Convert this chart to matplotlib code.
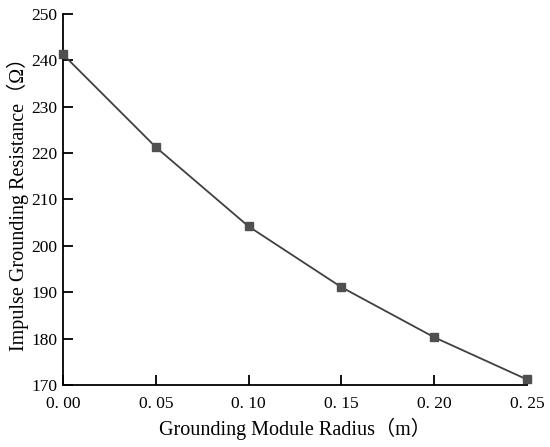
import matplotlib
matplotlib.use('Agg')
import matplotlib.pyplot as plt

# datos
radio = [0.00, 0.05, 0.10, 0.15, 0.20, 0.25]
resistencia = [241.3, 221.3, 204.2, 191.1, 180.3, 171.2]
xticks = [0.00, 0.05, 0.10, 0.15, 0.20, 0.25]
xtick_labels = ['0. 00', '0. 05', '0. 10', '0. 15', '0. 20', '0. 25']
yticks = [170, 180, 190, 200, 210, 220, 230, 240, 250]

fuente = ['Liberation Serif', 'Noto Sans CJK SC']
plt.rcParams['font.family'] = fuente

fig = plt.figure(figsize=(5.5, 4.47), dpi=100)
ax = fig.add_axes([0.1145, 0.1387, 0.8435, 0.83])

ax.plot(radio, resistencia, color='#404040', linewidth=1.3,
        marker='s', markersize=6, markerfacecolor='#505050',
        markeredgecolor='#505050', clip_on=False, zorder=3)

ax.set_xlim(0, 0.25)
ax.set_ylim(170, 250)
ax.set_xticks(xticks)
ax.set_xticklabels(xtick_labels)
ax.set_yticks(yticks)

ax.spines['top'].set_visible(False)
ax.spines['right'].set_visible(False)
for s in ['left', 'bottom']:
    ax.spines[s].set_linewidth(1.3)
ax.tick_params(direction='in', length=7, width=1.3, labelsize=12.5)
ax.tick_params(axis='x', pad=8)
ax.tick_params(axis='y', pad=4)

ax.set_xlabel('Grounding Module Radius（m）', fontsize=14.5, labelpad=4)
ax.set_ylabel('Impulse Grounding Resistance（Ω）', fontsize=14.5, labelpad=2)

fig.savefig('out.png', dpi=100)
